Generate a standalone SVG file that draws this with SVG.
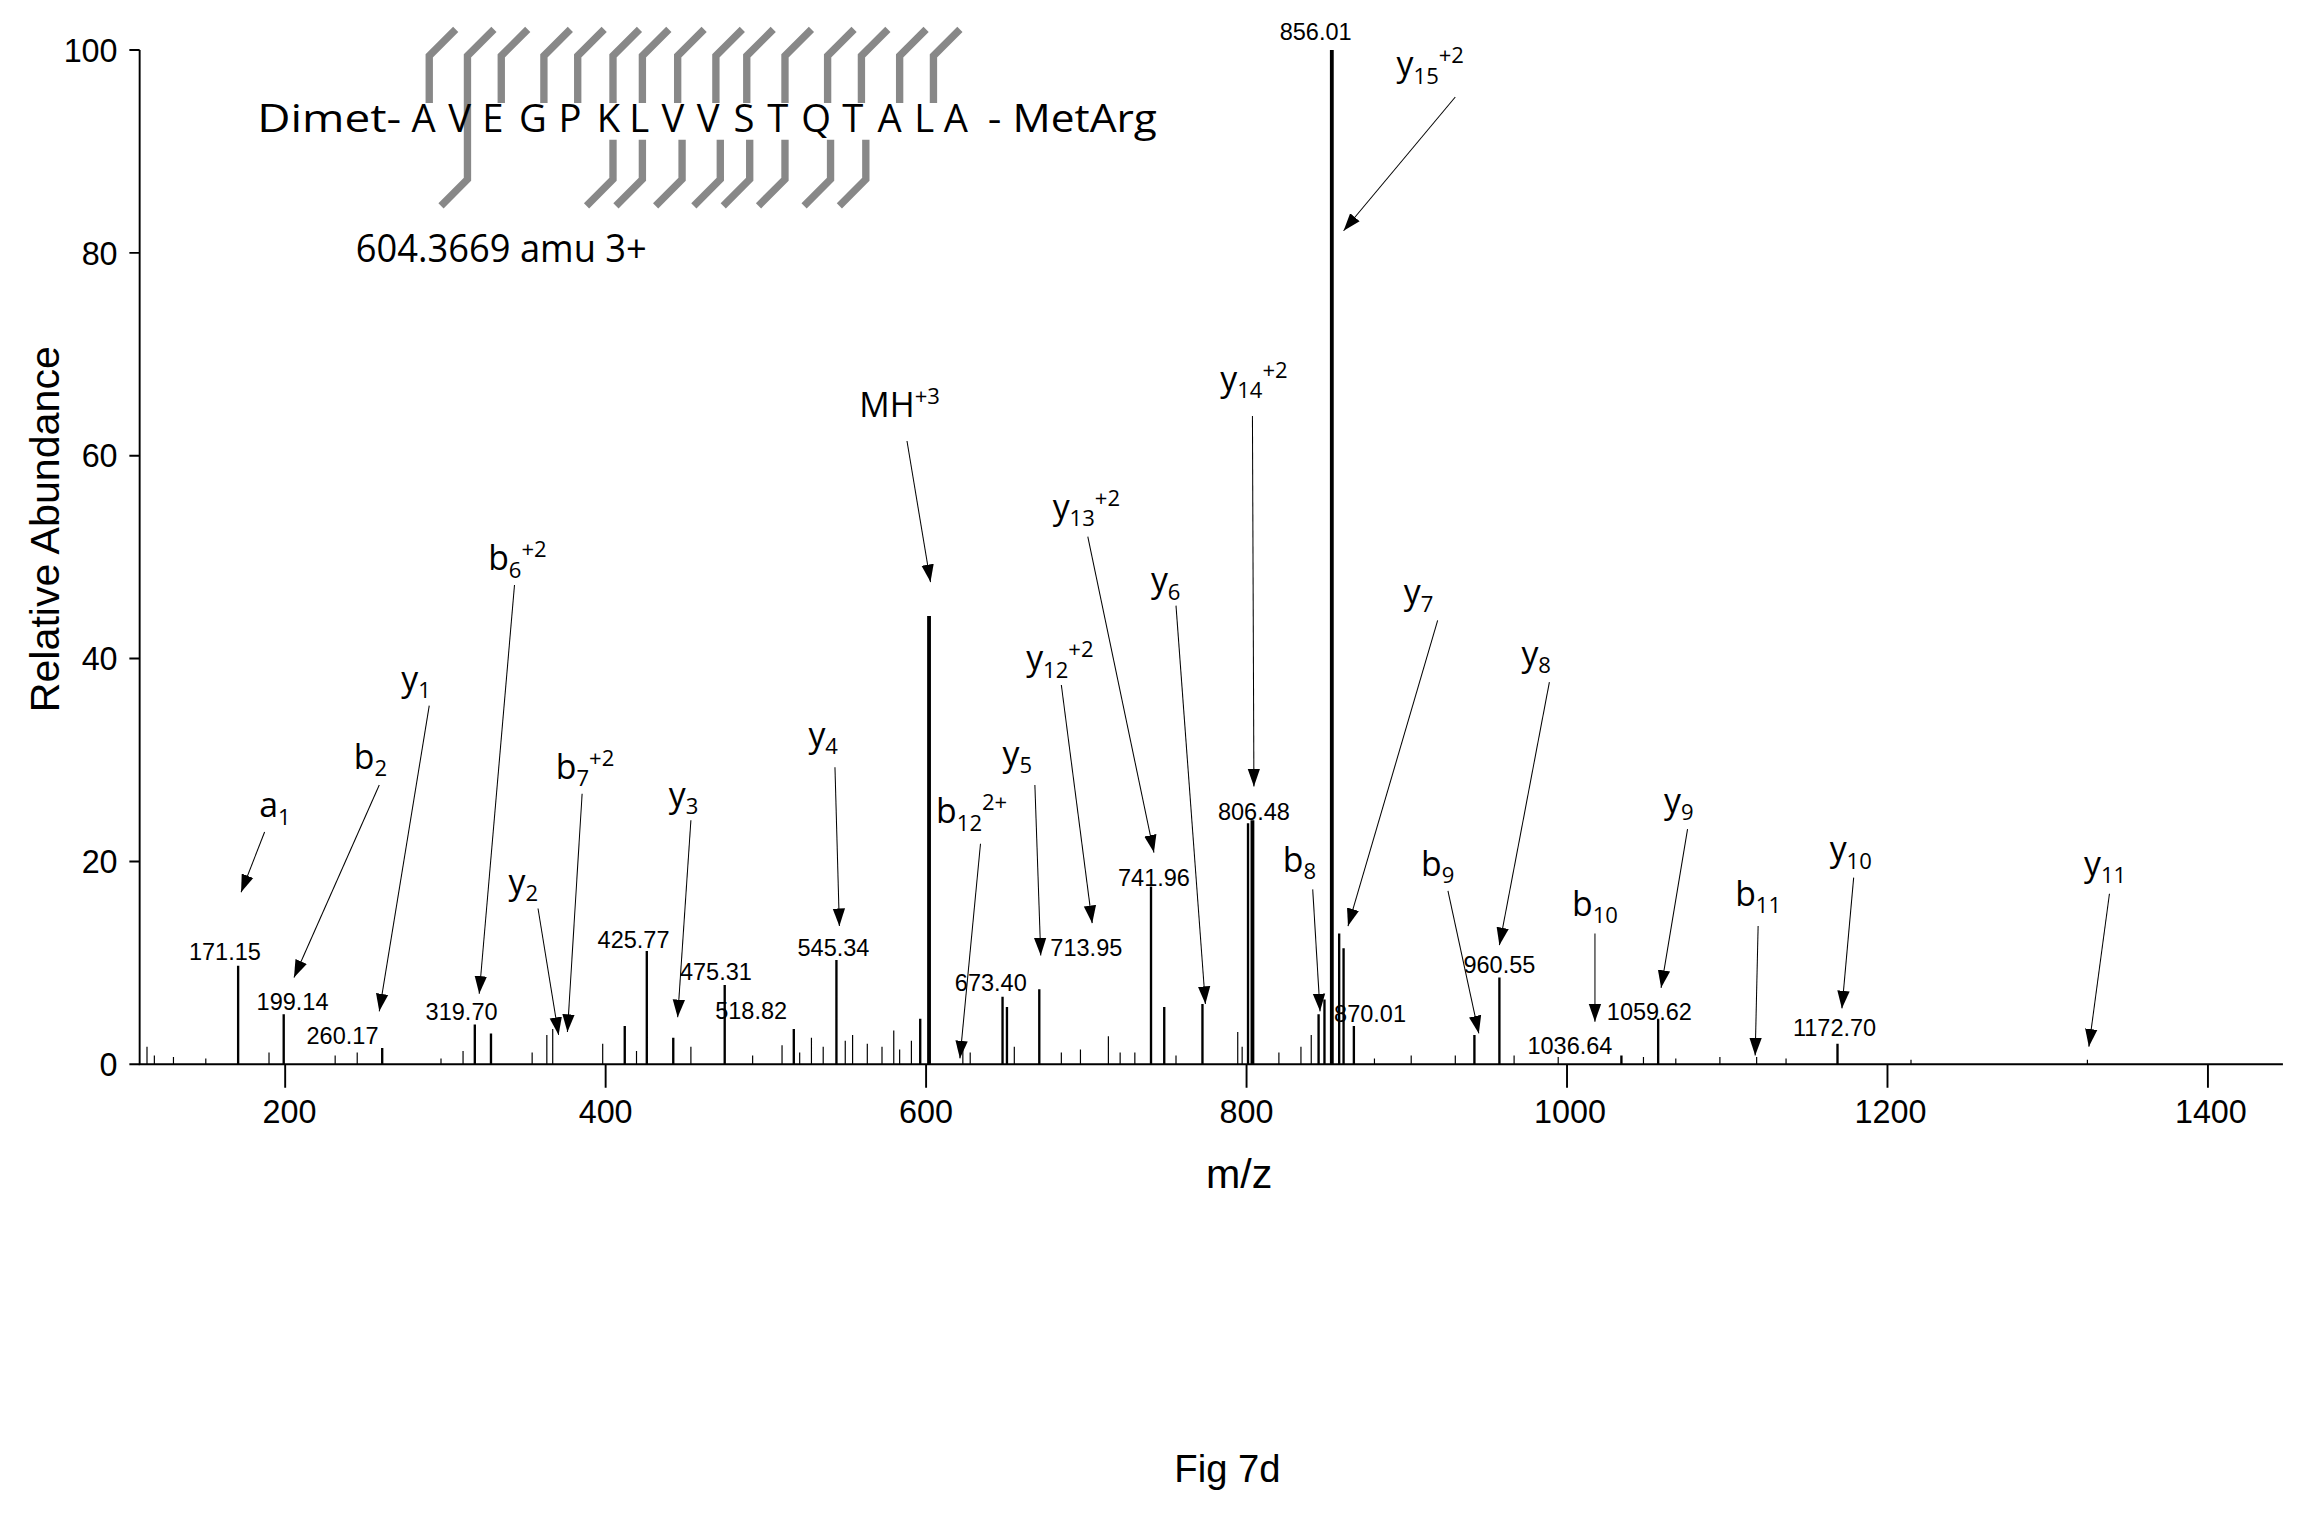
<svg xmlns="http://www.w3.org/2000/svg" width="2305" height="1517" viewBox="0 0 2305 1517">
<style>
.ax{stroke:#000;stroke-width:1.3;fill:none}
.tk{font-family:"Liberation Sans",Arial,sans-serif;font-size:22px;fill:#000}
.pl{font-family:"Liberation Sans",Arial,sans-serif;font-size:16px;fill:#000;text-anchor:middle}
.ion{font-family:"Open Sans","Liberation Sans",sans-serif;font-size:23px;fill:#000;text-anchor:middle}
.pep{font-family:"Open Sans","Liberation Sans",sans-serif;font-size:26px;fill:#000}
.pk{stroke:#000;stroke-width:1.6;fill:none}
.ar{stroke:#000;stroke-width:0.7;fill:none;marker-end:url(#ah)}
.br{stroke:#888;stroke-width:5;fill:none;stroke-linejoin:miter}
</style>
<defs>
<marker id="ah" viewBox="0 0 10 10" refX="10" refY="5" markerWidth="12" markerHeight="12" markerUnits="userSpaceOnUse" orient="auto"><path d="M0,1.5 L10,5 L0,8.5 Z" fill="#000"/></marker>
</defs>
<rect width="2305" height="1517" fill="#fff"/>
<g transform="scale(1.47)">
<g id="axes">
<path class="ax" d="M95,34 V724 H1553"/>
<path class="ax" d="M88,34H95M88,172H95M88,310H95M88,448H95M88,586H95M88,724H95"/>
<path class="ax" d="M194,724V740M412,724V740M630,724V740M848,724V740M1066,724V740M1284,724V740M1502,724V740"/>
<g class="tk" text-anchor="end"><text x="80" y="42">100</text><text x="80" y="180">80</text><text x="80" y="318">60</text><text x="80" y="456">40</text><text x="80" y="594">20</text><text x="80" y="732">0</text></g>
<g class="tk" text-anchor="middle"><text x="197" y="764">200</text><text x="412" y="764">400</text><text x="630" y="764">600</text><text x="848" y="764">800</text><text x="1068" y="764">1000</text><text x="1286" y="764">1200</text><text x="1504" y="764">1400</text></g>
<text x="843" y="808" text-anchor="middle" font-family="Liberation Sans,Arial,sans-serif" font-size="28">m/z</text>
<text transform="translate(40,360) rotate(-90)" text-anchor="middle" font-family="Liberation Sans,Arial,sans-serif" font-size="28">Relative Abundance</text>
<text x="835" y="1008" text-anchor="middle" font-family="Liberation Sans,Arial,sans-serif" font-size="26">Fig 7d</text>
</g>
<g id="peaks">
<path class="pk" d="M162,724V657M193,724V690M260,724V713M323,724V697M334,724V703M425,724V698M440,724V647M458,724V706M493,724V670M540,724V700M569,724V653M626,724V693M682,724V678M685,724V685M707,724V673M783,724V603M792,724V685M818,724V683M849,724V560M897,724V690M901,724V680M911,724V635M914,724V645M921,724V698M1003,724V704M1020,724V665M1103,724V718M1128,724V693M1250,724V710"/>
<path stroke="#000" stroke-width="2.6" d="M632,724V419M852,724V558M906,724V34"/>
<path stroke="#000" stroke-width="0.8" fill="none" d="M100,724V712M105,724V718M118,724V719M140,724V720M183,724V716M228,724V718M243,724V716M300,724V720M315,724V715M362,724V716M372,724V704M376,724V700M410,724V710M433,724V715M470,724V712M512,724V718M532,724V711M544,724V716M552,724V706M560,724V712M575,724V708M580,724V704M590,724V710M600,724V712M608,724V701M612,724V714M620,724V708M655,724V714M660,724V716M690,724V712M722,724V716M735,724V714M754,724V705M762,724V716M772,724V716M800,724V718M842,724V702M845,724V712M870,724V716M885,724V712M892,724V704M935,724V720M960,724V718M990,724V718M1030,724V718M1060,724V719M1118,724V719M1140,724V720M1170,724V719M1195,724V719M1215,724V720M1300,724V721M1420,724V721"/>
</g>
<g id="labels">
<text class="pl" x="153" y="653">171.15</text><text class="pl" x="199" y="687">199.14</text><text class="pl" x="233" y="710">260.17</text><text class="pl" x="314" y="694">319.70</text><text class="pl" x="431" y="645">425.77</text><text class="pl" x="487" y="667">475.31</text><text class="pl" x="511" y="693">518.82</text><text class="pl" x="567" y="650">545.34</text><text class="pl" x="674" y="674">673.40</text><text class="pl" x="739" y="650">713.95</text><text class="pl" x="785" y="603">741.96</text><text class="pl" x="853" y="558">806.48</text><text class="pl" x="895" y="27">856.01</text><text class="pl" x="932" y="695">870.01</text><text class="pl" x="1020" y="662">960.55</text><text class="pl" x="1068" y="717">1036.64</text><text class="pl" x="1122" y="694">1059.62</text><text class="pl" x="1248" y="705">1172.70</text>
</g>
<g id="connectors">
<path class="ar" d="M180,566L164,607"/><path class="ar" d="M258,534L200,665"/><path class="ar" d="M292,480L258,688"/><path class="ar" d="M350,398L326,676"/><path class="ar" d="M366,618L380,704"/><path class="ar" d="M396,540L386,702"/><path class="ar" d="M470,558L461,692"/><path class="ar" d="M568,522L571,630"/><path class="ar" d="M617,300L633,396"/><path class="ar" d="M667,574L653,720"/><path class="ar" d="M704,534L708,650"/><path class="ar" d="M722,466L743,628"/><path class="ar" d="M740,365L785,580"/><path class="ar" d="M800,412L820,683"/><path class="ar" d="M852,283L853,535"/><path class="ar" d="M990,66L914,157"/><path class="ar" d="M978,422L917,630"/><path class="ar" d="M893,605L898,688"/><path class="ar" d="M985,606L1006,703"/><path class="ar" d="M1054,464L1020,643"/><path class="ar" d="M1085,635L1085,695"/><path class="ar" d="M1148,564L1130,672"/><path class="ar" d="M1196,630L1194,718"/><path class="ar" d="M1261,597L1253,686"/><path class="ar" d="M1435,608L1421,712"/>
</g>
<g id="ions" class="ion">
<text x="187" y="556">a<tspan font-size="15" dy="5">1</tspan></text>
<text x="252" y="523">b<tspan font-size="15" dy="5">2</tspan></text>
<text x="283" y="470">y<tspan font-size="15" dy="5">1</tspan></text>
<text x="352" y="388">b<tspan font-size="15" dy="5">6</tspan><tspan font-size="15" dy="-14">+2</tspan></text>
<text x="356" y="608">y<tspan font-size="15" dy="5">2</tspan></text>
<text x="398" y="530">b<tspan font-size="15" dy="5">7</tspan><tspan font-size="15" dy="-14">+2</tspan></text>
<text x="465" y="549">y<tspan font-size="15" dy="5">3</tspan></text>
<text x="560" y="508">y<tspan font-size="15" dy="5">4</tspan></text>
<text x="612" y="284">MH<tspan font-size="15" dy="-9">+3</tspan></text>
<text x="661" y="560">b<tspan font-size="15" dy="5">12</tspan><tspan font-size="15" dy="-14">2+</tspan></text>
<text x="692" y="521">y<tspan font-size="15" dy="5">5</tspan></text>
<text x="721" y="456">y<tspan font-size="15" dy="5">12</tspan><tspan font-size="15" dy="-14">+2</tspan></text>
<text x="739" y="353">y<tspan font-size="15" dy="5">13</tspan><tspan font-size="15" dy="-14">+2</tspan></text>
<text x="793" y="403">y<tspan font-size="15" dy="5">6</tspan></text>
<text x="853" y="266">y<tspan font-size="15" dy="5">14</tspan><tspan font-size="15" dy="-14">+2</tspan></text>
<text x="973" y="52">y<tspan font-size="15" dy="5">15</tspan><tspan font-size="15" dy="-14">+2</tspan></text>
<text x="965" y="411">y<tspan font-size="15" dy="5">7</tspan></text>
<text x="884" y="593">b<tspan font-size="15" dy="5">8</tspan></text>
<text x="978" y="596">b<tspan font-size="15" dy="5">9</tspan></text>
<text x="1045" y="453">y<tspan font-size="15" dy="5">8</tspan></text>
<text x="1085" y="623">b<tspan font-size="15" dy="5">10</tspan></text>
<text x="1142" y="553">y<tspan font-size="15" dy="5">9</tspan></text>
<text x="1196" y="616">b<tspan font-size="15" dy="5">11</tspan></text>
<text x="1259" y="586">y<tspan font-size="15" dy="5">10</tspan></text>
<text x="1432" y="596">y<tspan font-size="15" dy="5">11</tspan></text>
</g>
<g id="peptide">
<path class="br" d="M292,70V38L310,20M318,70V38L336,20M341,70V38L359,20M370,70V38L388,20M393,70V38L411,20M417,70V38L435,20M437,70V38L455,20M461,70V38L479,20M487,70V38L505,20M508,70V38L526,20M534,70V38L552,20M563,70V38L581,20M586,70V38L604,20M612,70V38L630,20M635,70V38L653,20"/>
<path class="br" d="M318,70V122L300,140M417,95V122L399,140M437,95V122L419,140M464,95V122L446,140M490,95V122L472,140M510,95V122L492,140M534,95V122L516,140M565,95V122L547,140M589,95V122L571,140"/>
<g class="pep">
<text x="175" y="90" textLength="98" lengthAdjust="spacingAndGlyphs">Dimet-</text>
<text x="280" y="90">A</text><text x="305" y="90">V</text><text x="328" y="90">E</text><text x="353" y="90">G</text><text x="380" y="90">P</text><text x="406" y="90">K</text><text x="428" y="90">L</text><text x="450" y="90">V</text><text x="474" y="90">V</text><text x="499" y="90">S</text><text x="522" y="90">T</text><text x="545" y="90">Q</text><text x="573" y="90">T</text><text x="597" y="90">A</text><text x="622" y="90">L</text><text x="642" y="90">A</text>
<text x="672" y="90" textLength="115" lengthAdjust="spacingAndGlyphs">- MetArg</text>
<text x="242" y="178" textLength="198" lengthAdjust="spacingAndGlyphs">604.3669 amu 3+</text>
</g>
</g>
</g>
</svg>
